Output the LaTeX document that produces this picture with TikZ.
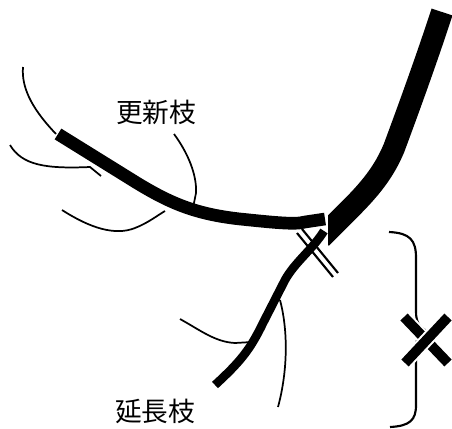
\documentclass[tikz,border=0pt]{standalone}
\usepackage{fontspec}
\newfontfamily\jp{Noto Sans CJK JP}

\begin{document}
\begin{tikzpicture} [x = 0.75pt, y = -0.75pt, line join = round,
        twig/.style = {line width = 1.3pt},
        limb/.style = {line width = 9.5pt},
        shoot/.style = {line width = 6.5pt},
        trunk/.style = {line width = 16.5pt},
        cut/.style = {line width = 1.6pt},
        lbl/.style = {font = \jp\fontsize{20pt}{24pt}\selectfont}]
        \useasboundingbox (0,0) rectangle (452,428);

        % thin twigs
        \draw [twig] (23,67) .. controls (21,90) and (35,112) .. (56,134);
        \draw [twig] (10,145) .. controls (22,165) and (45,169) .. (90,167) -- (101,176);
        \draw [twig] (62,210) .. controls (90,228) and (115,236) .. (135,228)
                     .. controls (148,223) and (158,215) .. (165,211);
        \draw [twig] (174,134) .. controls (188,153) and (197,175) .. (196,193) -- (193,208);
        \draw [twig] (180,319) .. controls (200,330) and (215,342) .. (235,343) -- (252,342);
        \draw [twig] (280,300) .. controls (288,330) and (288,370) .. (278,407);

        % branches
        \draw [limb] (58,134) -- (137,183) .. controls (170,203) and (195,214) .. (240,219)
                     .. controls (270,222) and (295,225) .. (305,222) -- (325,219);
        \draw [shoot] (324,231) .. controls (312,250) and (295,262) .. (285,280)
                      -- (263,323) .. controls (250,350) and (240,362) .. (215,385);
        \begin{scope}
            \clip (328,0) rectangle (452,428);
            \draw [trunk] (321,238) -- (350,209) .. controls (370,189) and (384,172) .. (394,148)
                          .. controls (410,105) and (428,55) .. (442,12);
        \end{scope}

        % cut mark
        \draw [cut] (297,233) -- (333,277);
        \draw [cut] (302,229) -- (338,273);

        % bracket and cross
        \draw [cut] (389,232) .. controls (410,233) and (416,240) .. (416,258) -- (416,312)
                    .. controls (416,322) and (420,328) .. (425,330)
                    .. controls (420,332) and (416,338) .. (416,348) -- (416,405)
                    .. controls (416,420) and (410,426) .. (390,427);
        \foreach \a/\b in {{(404,317)}/{(448,363)}, {(448,317)}/{(405,363)}} {
            \draw [white, line width = 10.5pt] \a -- \b;
            \draw [line width = 7.5pt] \a -- \b;
        }

        \node (new) [lbl] at (156,112) {更新枝};
        \node (ext) [lbl] at (155,411) {延長枝};
\end{tikzpicture}
\end{document}
